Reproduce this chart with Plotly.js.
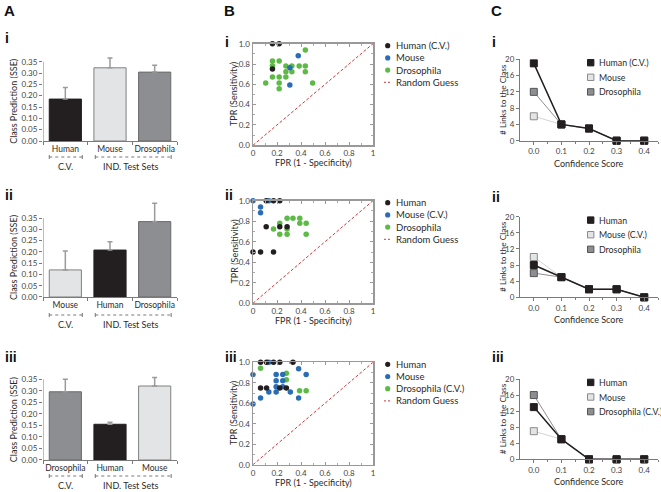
<!DOCTYPE html>
<html>
<head>
<meta charset="utf-8">
<script src="https://cdn.plot.ly/plotly-3.0.1.min.js"></script>
<style>html,body{margin:0;padding:0;background:#fff}#chart{width:661px;height:492px}</style>
</head>
<body>
<div id="chart"></div>
<script>
// ---- data: column A (class prediction SSE, mean + upper error) ----
const aCats = [
  ['Human', 'Mouse', 'Drosophila'],
  ['Mouse', 'Human', 'Drosophila'],
  ['Drosophila', 'Human', 'Mouse'],
];
const aVals = [
  [0.185, 0.323, 0.304],
  [0.120, 0.208, 0.334],
  [0.296, 0.155, 0.321],
];
const aErr = [
  [0.051, 0.043, 0.030],
  [0.084, 0.037, 0.081],
  [0.054, 0.009, 0.037],
];
const aGroups = ['C.V.', 'IND. Test Sets'];

// ---- data: column B (ROC points: FPR / TPR) ----
const bHumanX = [
  [0.162, 0.218, 0.162],
  [0.110, 0.171, 0.223, 0.110, 0.223, 0.284, 0.000, 0.063, 0.171],
  [0.063, 0.113, 0.171, 0.223, 0.333, 0.063, 0.113, 0.223, 0.278],
];
const bHumanY = [
  [1.0, 1.0, 0.75],
  [1.0, 1.0, 1.0, 0.747, 0.747, 0.747, 0.5, 0.5, 0.5],
  [1.0, 1.0, 1.0, 1.0, 1.0, 0.749, 0.749, 0.749, 0.749],
];
const bMouseX = [
  [0.377, 0.307, 0.307],
  [0.000, 0.132, 0.063, 0.063],
  [0.132, 0.000, 0.193, 0.248, 0.380, 0.443, 0.193, 0.248, 0.193, 0.248, 0.132, 0.193, 0.311, 0.063, 0.380, 0.000],
];
const bMouseY = [
  [0.882, 0.764, 0.593],
  [1.0, 1.0, 0.938, 0.883],
  [1.0, 0.88, 0.88, 0.88, 0.938, 0.88, 0.821, 0.821, 0.762, 0.762, 0.71, 0.71, 0.71, 0.651, 0.651, 0.593],
];
const bDrosoX = [
  [0.436, 0.162, 0.218, 0.162, 0.274, 0.324, 0.385, 0.436, 0.274, 0.324, 0.436, 0.162, 0.218, 0.274, 0.106, 0.218, 0.497, 0.218],
  [0.284, 0.333, 0.390, 0.223, 0.390, 0.443, 0.171, 0.284, 0.223, 0.284, 0.443],
  [0.063, 0.278, 0.278, 0.388, 0.443],
];
const bDrosoY = [
  [0.938, 0.83, 0.83, 0.784, 0.78, 0.78, 0.78, 0.78, 0.725, 0.725, 0.725, 0.672, 0.672, 0.672, 0.613, 0.613, 0.613, 0.557],
  [0.83, 0.83, 0.83, 0.78, 0.78, 0.78, 0.724, 0.724, 0.672, 0.672, 0.672],
  [0.941, 0.892, 0.83, 0.723, 0.723],
];
const guessLine = [0, 1];
const bLegend = [
  ['Human (C.V.)', 'Mouse', 'Drosophila', 'Random Guess'],
  ['Human', 'Mouse (C.V.)', 'Drosophila', 'Random Guess'],
  ['Human', 'Mouse', 'Drosophila (C.V.)', 'Random Guess'],
];

// ---- data: column C (links vs confidence score) ----
const cScore = [0.0, 0.1, 0.2, 0.3, 0.4];
const cHuman = [[19, 4, 3, 0, 0], [8, 5, 2, 2, 0], [13, 5, 0, 0, 0]];
const cMouse = [[6, 4, 3, 0, 0], [10, 5, 2, 2, 0], [7, 5, 0, 0, 0]];
const cDroso = [[12, 4, 3, 0, 0], [6, 5, 2, 2, 0], [16, 5, 0, 0, 0]];
const cLegend = [
  ['Human (C.V.)', 'Mouse', 'Drosophila'],
  ['Human', 'Mouse (C.V.)', 'Drosophila'],
  ['Human', 'Mouse', 'Drosophila (C.V.)'],
];
const rowLabels = ['i', 'ii', 'iii'];

// ---- styling ----
const W = 661, H = 492;
const px = x => x / W;
const py = y => 1 - y / H;
const FONT = "Lato, 'Open Sans', sans-serif";
const TXT = '#2b2b2b';
const AX = '#7a7a7a';
const barFill = { Human: '#231f20', Mouse: '#e3e4e5', Drosophila: '#8d8e91' };
const barEdge = { Human: '#231f20', Mouse: '#808080', Drosophila: '#6a6a6a' };
const dotColor = { Human: '#231f20', Mouse: '#2a6db5', Drosophila: '#5dba47' };
const sqFill = { Human: '#231f20', Mouse: '#e3e4e5', Drosophila: '#8d8e91' };
const sqEdge = { Human: '#231f20', Mouse: '#8a8a8a', Drosophila: '#555555' };
const sqLine = { Human: '#231f20', Mouse: '#d4d4d4', Drosophila: '#8d8e91' };

const rowsA = [{ zero: 141, unit: 226.6 }, { zero: 297, unit: 225.7 }, { zero: 460, unit: 230.5 }];
const rowsB = [{ bot: 145.3, top: 43.7 }, { bot: 303.3, top: 200.7 }, { bot: 464.7, top: 362.3 }];
const rowsC = [{ bot: 140.7, top: 59.3 }, { bot: 297.3, top: 216.7 }, { bot: 459.3, top: 379 }];
const bracketY = [157, 315, 476];
const groupTextY = [166.5, 324, 485];
const numY = [[38, 195, 357], [42, 195, 357], [42, 197, 357]];

const axKey = (c, n) => (n === 1 ? c + 'axis' : c + 'axis' + n);
const axRef = (c, n) => (n === 1 ? c : c + n);

const traces = [];
const layout = {
  width: W, height: H, margin: { l: 0, r: 0, t: 0, b: 0 },
  paper_bgcolor: '#fff', plot_bgcolor: 'rgba(0,0,0,0)',
  font: { family: FONT, size: 9, color: TXT },
  showlegend: false,
  shapes: [], annotations: [],
};
const tickFont = { family: FONT, size: 8, color: '#444' };

function note(text, x, y, opts) {
  layout.annotations.push(Object.assign({
    text, x: px(x), y: py(y), xref: 'paper', yref: 'paper',
    showarrow: false, xanchor: 'center', yanchor: 'middle',
    font: { family: FONT, size: 9, color: TXT },
  }, opts || {}));
}

// panel letters
[['A', 9], ['B', 229], ['C', 496]].forEach(([t, x]) => {
  note('<b>' + t + '</b>', x, 11, { font: { family: 'Liberation Sans, Arial, sans-serif', size: 15, color: '#111' } });
});

// ---- column A ----
rowsA.forEach((row, r) => {
  const n = r + 1;
  const cats = aCats[r];
  traces.push({
    type: 'bar', x: cats, y: aVals[r], width: 0.72,
    xaxis: axRef('x', n), yaxis: axRef('y', n),
    marker: { color: cats.map(c => barFill[c]), line: { color: cats.map(c => barEdge[c]), width: 1 } },
    error_y: { type: 'data', symmetric: false, array: aErr[r], arrayminus: aErr[r].map(() => 0),
      color: '#9b9b9b', thickness: 1.5, width: 2.5 },
  });
  layout[axKey('x', n)] = {
    type: 'category', domain: [px(43), px(177)], range: [-0.5, 2.5], anchor: axRef('y', n),
    showline: true, linecolor: AX, linewidth: 1, ticks: 'outside', ticklen: 3, tickcolor: AX,
    tickson: 'boundaries', tickangle: 0, showgrid: false, zeroline: false,
    tickfont: { family: FONT, size: 8.5, color: TXT },
  };
  layout[axKey('y', n)] = {
    domain: [py(row.zero), py(row.zero - 0.43 * row.unit)], range: [0, 0.43], anchor: axRef('x', n),
    tickvals: [0, 0.05, 0.1, 0.15, 0.2, 0.25, 0.3, 0.35], tickformat: '.2f',
    ticks: 'outside', ticklen: 3, tickcolor: AX, showline: false, showgrid: false, zeroline: false,
    tickfont: tickFont,
  };
  layout.shapes.push({ type: 'line', xref: axRef('x', n), yref: axRef('y', n), x0: -0.5, x1: -0.5, y0: 0, y1: 0.35,
    line: { color: AX, width: 1 } });
  // group brackets
  [[-0.36, 0.38], [0.67, 2.37]].forEach(([a, b], g) => {
    const yb = py(bracketY[r]);
    layout.shapes.push({ type: 'line', xref: axRef('x', n), yref: 'paper', x0: a, x1: b, y0: yb, y1: yb,
      line: { color: '#555', width: 0.8, dash: 'dot' } });
    [a, b].forEach(xe => layout.shapes.push({ type: 'line', xref: axRef('x', n), yref: 'paper', x0: xe, x1: xe,
      y0: yb - 2 / H, y1: yb + 2 / H, line: { color: '#555', width: 0.8 } }));
    note(aGroups[g], g === 0 ? 65 : 130.7, groupTextY[r]);
  });
  note('Class Prediction (SSE)', 13.5, (row.zero + row.zero - 0.35 * row.unit) / 2, { textangle: -90 });
  note('<b>' + rowLabels[r] + '</b>', 3, numY[0][r], { xanchor: 'left', font: { family: 'Liberation Sans, Arial, sans-serif', size: 14, color: '#111' } });
});

// ---- column B ----
rowsB.forEach((row, r) => {
  const n = r + 4;
  const xa = axRef('x', n), ya = axRef('y', n);
  traces.push({ type: 'scatter', mode: 'lines', x: guessLine, y: guessLine, xaxis: xa, yaxis: ya,
    line: { color: '#d2363c', width: 1, dash: '3px,2px' } });
  [['Drosophila', bDrosoX, bDrosoY], ['Mouse', bMouseX, bMouseY], ['Human', bHumanX, bHumanY]].forEach(([sp, xs, ys]) => {
    traces.push({ type: 'scatter', mode: 'markers', x: xs[r], y: ys[r], xaxis: xa, yaxis: ya, cliponaxis: false,
      marker: { color: dotColor[sp], size: 5.5, line: { width: 0 } } });
  });
  const base = {
    range: [0, 1], tickvals: [0, 0.2, 0.4, 0.6, 0.8, 1], showline: true, mirror: 'allticks',
    linecolor: '#999', linewidth: 1.5, ticks: 'inside', ticklen: 3, tickcolor: '#999',
    minor: { dtick: 0.1, ticks: 'inside', ticklen: 2, tickcolor: '#aaa' },
    showgrid: false, zeroline: false, tickfont: tickFont,
  };
  layout[axKey('x', n)] = Object.assign({}, base, { domain: [px(253), px(373)], anchor: ya,
    ticktext: ['0', '0.2', '0.4', '0.6', '0.8', '1'] });
  layout[axKey('y', n)] = Object.assign({}, base, { domain: [py(row.bot), py(row.top)], anchor: xa,
    ticktext: ['0.0', '0.2', '0.4', '0.6', '0.8', '1.0'] });
  note('TPR (Sensitivity)', 233.5, (row.bot + row.top) / 2, { textangle: -90 });
  note('FPR (1 - Specificity)', 313, row.bot + 17.4);
  note('<b>' + rowLabels[r] + '</b>', 223, numY[1][r], { xanchor: 'left', font: { family: 'Liberation Sans, Arial, sans-serif', size: 14, color: '#111' } });
  // legend
  const ly0 = row.top + 2;
  const cols = [dotColor.Human, dotColor.Mouse, dotColor.Drosophila];
  bLegend[r].forEach((lab, i) => {
    const ly = ly0 + i * 12.2;
    if (i < 3) {
      layout.shapes.push({ type: 'circle', xref: 'paper', yref: 'paper', xsizemode: 'pixel', ysizemode: 'pixel',
        xanchor: px(387.7), yanchor: py(ly), x0: -2.6, x1: 2.6, y0: -2.6, y1: 2.6,
        fillcolor: cols[i], line: { width: 0 } });
    } else {
      layout.shapes.push({ type: 'line', xref: 'paper', yref: 'paper', x0: px(384), x1: px(392), y0: py(ly), y1: py(ly),
        line: { color: '#d2363c', width: 1, dash: '2px,2px' } });
    }
    note(lab, 393.5, ly, { xanchor: 'left', font: { family: FONT, size: 9.5, color: TXT } });
  });
});

// ---- column C ----
rowsC.forEach((row, r) => {
  const n = r + 7;
  const xa = axRef('x', n), ya = axRef('y', n);
  [['Mouse', cMouse], ['Drosophila', cDroso], ['Human', cHuman]].forEach(([sp, vals]) => {
    traces.push({ type: 'scatter', mode: 'lines+markers', x: cScore, y: vals[r], xaxis: xa, yaxis: ya, cliponaxis: false,
      line: { color: sqLine[sp], width: sp === 'Human' ? 1.5 : 1 },
      marker: { symbol: 'square', size: 7, color: sqFill[sp], line: { color: sqEdge[sp], width: 1 } } });
  });
  layout[axKey('x', n)] = {
    domain: [px(520), px(658)], range: [-0.05, 0.45], anchor: ya,
    tickvals: [0, 0.1, 0.2, 0.3, 0.4], tickformat: '.1f', showline: true, linecolor: AX, linewidth: 1,
    ticks: 'outside', ticklen: 3, tickcolor: AX,
    minor: { tickvals: [0.05, 0.15, 0.25, 0.35, 0.45], ticks: 'outside', ticklen: 2, tickcolor: AX },
    showgrid: false, zeroline: false, tickfont: tickFont,
  };
  layout[axKey('y', n)] = {
    domain: [py(row.bot), py(row.top)], range: [0, 20], anchor: xa,
    tickvals: [0, 4, 8, 12, 16, 20], showline: true, linecolor: AX, linewidth: 1,
    ticks: 'outside', ticklen: 3, tickcolor: AX, showgrid: false, zeroline: false, tickfont: tickFont,
  };
  note('# Links to the Class', 503, (row.bot + row.top) / 2, { textangle: -90, font: { family: FONT, size: 8.3, color: TXT } });
  note('Confidence Score', 588.5, row.bot + 22.5);
  note('<b>' + rowLabels[r] + '</b>', 490, numY[2][r], { xanchor: 'left', font: { family: 'Liberation Sans, Arial, sans-serif', size: 14, color: '#111' } });
  const sp = ['Human', 'Mouse', 'Drosophila'];
  cLegend[r].forEach((lab, i) => {
    const ly = row.top + 3.4 + i * 14.6;
    layout.shapes.push({ type: 'rect', xref: 'paper', yref: 'paper', xsizemode: 'pixel', ysizemode: 'pixel',
      xanchor: px(590.7), yanchor: py(ly), x0: -3.2, x1: 3.2, y0: -3.2, y1: 3.2,
      fillcolor: sqFill[sp[i]], line: { color: sqEdge[sp[i]], width: 1 } });
    note(lab, 596.5, ly, { xanchor: 'left', font: { family: FONT, size: 8.8, color: TXT } });
  });
});

Plotly.newPlot('chart', traces, layout, { displayModeBar: false, staticPlot: true });
</script>
</body>
</html>
